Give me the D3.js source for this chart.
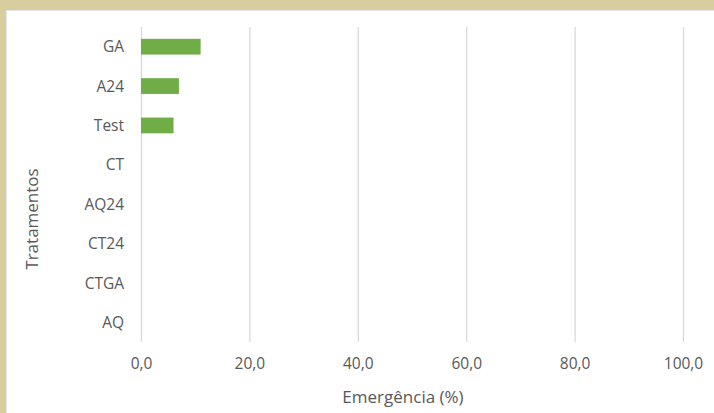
<!DOCTYPE html>
<html>
<head>
<meta charset="utf-8">
<script src="https://cdn.jsdelivr.net/npm/d3@7"></script>
<style>
  html, body { margin: 0; padding: 0; background: #ffffff; }
  svg { display: block; }
  text { font-family: "Open Sans", "Noto Sans", sans-serif; fill: #595959; }
</style>
</head>
<body>
<svg id="chart" width="714" height="413"></svg>
<script>
// Emergence (%) per treatment, listed top to bottom
const categories = ["GA", "A24", "Test", "CT", "AQ24", "CT24", "CTGA", "AQ"];
const emergencia = [11, 7, 6, 0, 0, 0, 0, 0];
const xTicks = [0, 20, 40, 60, 80, 100];

const W = 714, H = 413;
const plot = { left: 141, right: 683, top: 27, bottom: 342 };

const svg = d3.select("#chart");

// frame: tan band along the top and left, thin grey edge inside it
svg.append("rect").attr("x", 0).attr("y", 0).attr("width", W).attr("height", H).attr("fill", "#d8cd9e");
svg.append("rect").attr("x", 6).attr("y", 10).attr("width", W - 6).attr("height", H - 10).attr("fill", "#e6e6e6");
svg.append("rect").attr("x", 7).attr("y", 11).attr("width", W - 7).attr("height", H - 11).attr("fill", "#ffffff");

const x = d3.scaleLinear().domain([0, 100]).range([plot.left, plot.right]);
const y = d3.scaleBand().domain(categories).range([plot.top, plot.bottom])
  .paddingInner(0.6).paddingOuter(0.3);

const fmt = v => d3.format(".1f")(v).replace(".", ",");

// vertical gridlines
const xAxis = d3.axisBottom(x).tickValues(xTicks).tickFormat(fmt)
  .tickSize(-(plot.bottom - plot.top)).tickPadding(16);
const gx = svg.append("g").attr("transform", `translate(0,${plot.bottom})`).call(xAxis);
gx.select(".domain").remove();
gx.selectAll(".tick line").attr("stroke", "#d9d9d9").attr("stroke-width", 1.3);
gx.selectAll(".tick text").attr("font-size", 15.5).attr("fill", "#595959")
  .attr("dy", 0).attr("y", 369 - plot.bottom);

// category labels
const yAxis = d3.axisLeft(y).tickSize(0).tickPadding(17);
const gy = svg.append("g").attr("transform", `translate(${plot.left},0)`).call(yAxis);
gy.select(".domain").remove();
gy.selectAll(".tick text").attr("font-size", 15.5).attr("fill", "#595959").attr("dy", "0.36em");

// bars
svg.append("g").selectAll("rect")
  .data(categories.map((c, i) => ({ c, v: emergencia[i] })).filter(d => d.v > 0))
  .join("rect")
  .attr("x", x(0))
  .attr("y", d => y(d.c))
  .attr("width", d => x(d.v) - x(0))
  .attr("height", y.bandwidth())
  .attr("fill", "#70ad47");

// axis titles
svg.append("text").attr("x", 403).attr("y", 403).attr("text-anchor", "middle")
  .attr("font-size", 17).text("Emergência (%)");
svg.append("text").attr("transform", "translate(38,219) rotate(-90)").attr("text-anchor", "middle")
  .attr("font-size", 17).text("Tratamentos");
</script>
</body>
</html>
